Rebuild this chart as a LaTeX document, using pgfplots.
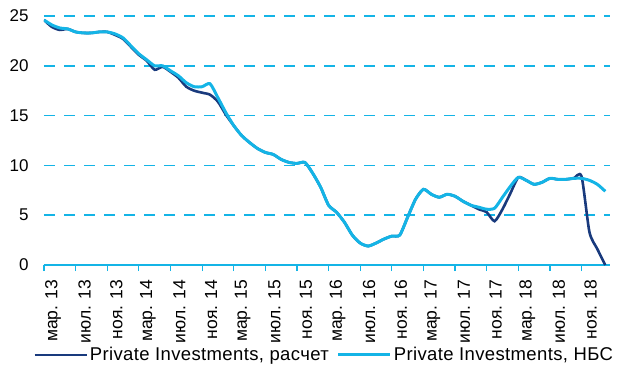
\documentclass[border=0pt]{standalone}
\usepackage{fontspec}
\setmainfont{Liberation Sans}
\usepackage{pgfplots}
\usepackage{pgfplotstable}
\pgfplotsset{compat=1.18}
\usetikzlibrary{calc}
\definecolor{darkb}{RGB}{25,58,125}
\definecolor{lightb}{RGB}{20,180,230}

\pgfplotstableread{
m calc nbs
0 24.6 24.6
1 23.9 24.1
2 23.6 23.8
3 23.7 23.7
4 23.4 23.4
5 23.3 23.3
6 23.3 23.3
7 23.4 23.4
8 23.4 23.4
9 23.1 23.2
10 22.7 22.8
11 21.9 22.0
12 21.1 21.2
13 20.5 20.6
14 19.6 20.0
15 19.9 20.0
16 19.4 19.5
17 18.8 19.0
18 17.9 18.3
19 17.5 17.9
20 17.3 17.9
21 17.1 18.2
22 16.4 16.8
23 15.1 15.3
24 14.0 14.0
25 13.0 13.0
26 12.3 12.3
27 11.7 11.7
28 11.3 11.3
29 11.1 11.1
30 10.6 10.6
31 10.3 10.3
32 10.2 10.2
33 10.3 10.3
34 9.2 9.2
35 7.8 7.8
36 6.0 6.0
37 5.3 5.3
38 4.3 4.3
39 3.0 3.0
40 2.2 2.2
41 1.9 1.9
42 2.2 2.2
43 2.6 2.6
44 2.9 2.9
45 3.0 3.0
46 4.8 4.8
47 6.6 6.6
48 7.6 7.6
49 7.1 7.1
50 6.8 6.8
51 7.1 7.1
52 6.9 6.9
53 6.4 6.4
54 6.0 6.0
55 5.6 5.8
56 5.3 5.6
57 4.4 5.7
58 5.6 6.8
59 7.2 7.9
60 8.8 8.8
61 8.5 8.5
62 8.1 8.1
63 8.3 8.3
64 8.7 8.7
65 8.6 8.6
66 8.6 8.6
67 8.7 8.7
68 8.9 8.7
69 3.3 8.5
70 1.6 8.1
71 0.0 7.4
}\datatab

\begin{document}
\begin{tikzpicture}
\begin{axis}[
  scale only axis,
  width=566pt, height=249pt,
  xmin=0, xmax=71.6,
  ymin=0, ymax=25,
  axis lines=left,
  axis line style={-},
  y axis line style={draw=none},
  x axis line style={lightb, line width=1.5pt},
  ytick={0,5,...,25},
  ytick style={draw=none},
  xtick={0,4,...,68},
  xticklabels={мар. 13,июл. 13,ноя. 13,мар. 14,июл. 14,ноя. 14,мар. 15,июл. 15,ноя. 15,мар. 16,июл. 16,ноя. 16,мар. 17,июл. 17,ноя. 17,мар. 18,июл. 18,ноя. 18},
  xtick style={lightb, line width=1.2pt},
  tick align=outside,
  major tick length=6pt,
  xticklabel style={rotate=90, anchor=east, font=\fontsize{17.5}{19}\selectfont, xshift=-5pt, yshift=-9pt},
  yticklabel style={font=\fontsize{17}{19}\selectfont, xshift=-6pt},
  /pgf/number format/assume math mode=true,
  ymajorgrids,
  grid style={lightb, line width=1.5pt, dash pattern=on 11pt off 9pt},
  legend columns=2,
  legend style={draw=none, fill=none, at={(axis description cs:-0.0194,-0.3614)}, anchor=west,
    font=\fontsize{18.5}{20}\addfontfeatures{LetterSpace=2}\selectfont, inner sep=0pt,
    /tikz/every even column/.append style={column sep=6pt}},
  legend image code/.code={\draw[#1] (0pt,0pt) -- (52pt,0pt);},
]
\coordinate (O) at (rel axis cs:0,0);
\addplot[darkb, line width=2.6pt, smooth, tension=0.4] table[x=m, y=calc] {\datatab};
\addlegendentry{Private Investments, расчет}
\addplot[lightb, line width=3pt, smooth, tension=0.4] table[x=m, y=nbs] {\datatab};
\addlegendentry{Private Investments, НБС}
\end{axis}
\pgfresetboundingbox
\path[use as bounding box] ($(O)+(-44pt,-104pt)$) rectangle ($(O)+(576pt,265pt)$);
\end{tikzpicture}
\end{document}
